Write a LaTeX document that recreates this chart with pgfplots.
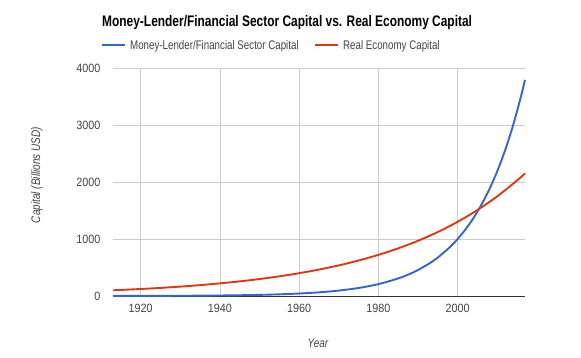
\documentclass[border=0pt]{standalone}
\usepackage{pgfplots}
\pgfplotsset{compat=1.18}
\usepackage{fontspec}
\setmainfont{Liberation Sans}[FakeStretch=0.9]
\newfontfamily\narrowfont{Liberation Sans}[FakeStretch=0.78]
\newfontfamily\labelfont{Liberation Sans}[FakeStretch=0.8]
\definecolor{gblue}{HTML}{3366CC}
\definecolor{gred}{HTML}{DC3912}
\definecolor{ticktxt}{HTML}{444444}
\definecolor{gridc}{HTML}{CCCCCC}
\begin{document}
\begin{tikzpicture}[x=1pt,y=1pt]
\path (0,0) rectangle (581,357);
\begin{axis}[
  at={(113pt,61pt)}, anchor=south west,
  scale only axis, width=412pt, height=228pt,
  xmin=1913, xmax=2017, ymin=0, ymax=4000,
  xtick={1920,1940,...,2000}, ytick={0,1000,...,4000},
  /pgf/number format/1000 sep={},
  /pgf/number format/assume math mode=true,
  tick label style={font=\fontsize{12}{14}\selectfont, text=ticktxt},
  yticklabel style={anchor=east, xshift=-9pt},
  xticklabel style={anchor=base, yshift=-16pt},
  major tick length=0pt,
  grid=major, major grid style={color=gridc, line width=0.8pt},
  separate axis lines,
  axis x line*=bottom, axis y line*=left,
  x axis line style={draw=black!80, line width=0.9pt, -},
  y axis line style={draw=none},
  clip=false,
]
\addplot[gblue, line width=1.9pt, smooth] coordinates {
(1913,1.1) (1920,1.9) (1930,4.1) (1940,9.1) (1945,13.4) (1950,19.8) (1955,29.4)
(1960,43.4) (1965,64.3) (1970,95.1) (1975,140.9) (1980,208.5) (1985,308.5)
(1988,390) (1990,456.6) (1993,577.7) (1995,675.7) (1998,854.9) (2000,1000)
(2002,1170) (2004,1368) (2006,1601) (2008,1873) (2010,2190) (2012,2562)
(2014,2997) (2016,3506) (2017,3792)};
\addplot[gred, line width=1.9pt, smooth] coordinates {
(1913,100) (1920,123) (1925,142) (1930,165) (1935,191) (1940,222) (1945,257)
(1950,298) (1955,345) (1960,400) (1965,464) (1970,537) (1975,623) (1980,722)
(1985,836) (1990,969) (1995,1123) (2000,1302) (2005,1509) (2010,1749)
(2015,2027) (2017,2150)};
\end{axis}
\node[anchor=base west, font=\narrowfont\fontsize{15.3}{17}\selectfont\bfseries, text=black, inner sep=0] at (102,330) {Money-Lender/Financial Sector Capital vs. Real Economy Capital};
\draw[gblue, line width=1.9pt] (102,312) -- (125,312);
\node[anchor=base west, font=\narrowfont\fontsize{12.5}{14}\selectfont, text=ticktxt, inner sep=0] at (130,308) {Money-Lender/Financial Sector Capital};
\draw[gred, line width=1.9pt] (315,312) -- (338,312);
\node[anchor=base west, font=\narrowfont\fontsize{12.5}{14}\selectfont, text=ticktxt, inner sep=0] at (343,308) {Real Economy Capital};
\node[rotate=90, font=\labelfont\fontsize{12.5}{14}\selectfont\itshape, text=ticktxt] at (37,182) {Capital (Billions USD)};
\node[font=\labelfont\fontsize{12.5}{14}\selectfont\itshape, text=ticktxt] at (318,14) {Year};
\end{tikzpicture}
\end{document}
